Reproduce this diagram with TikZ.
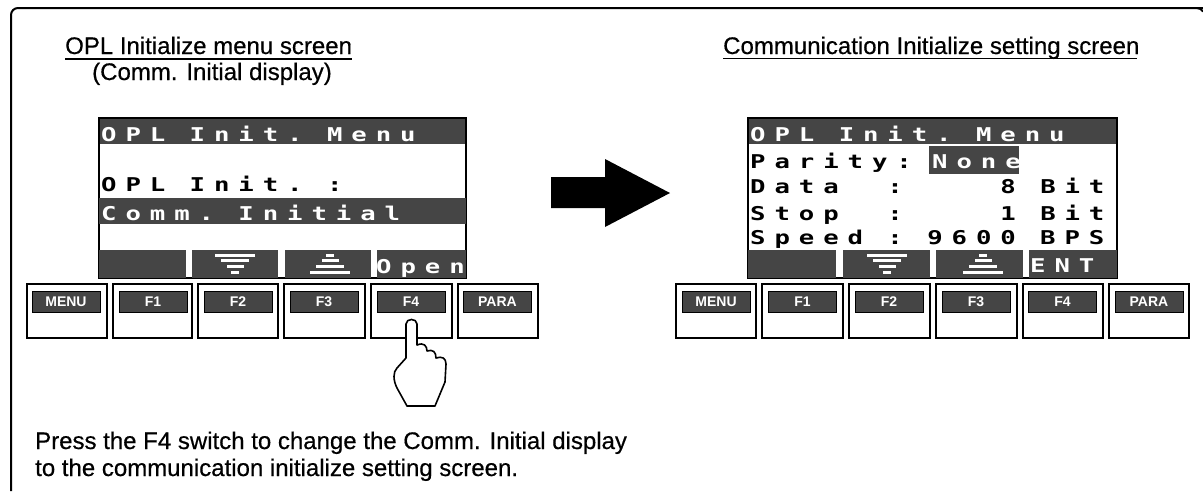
\documentclass[tikz,border=0pt]{standalone}
\usepackage{fontspec}
\setmainfont{Liberation Sans}
\newfontfamily\headfont{Liberation Sans}[FakeBold=0.5]
\newfontfamily\lcdfont{DejaVu Sans Mono}[FakeStretch=1.35,LetterSpace=47]
\usepackage{xcolor}
\usetikzlibrary{positioning}
\definecolor{lcdgray}{gray}{0.27}
\tikzset{
  frameline/.style={line width=2pt,rounded corners=7pt},
  lcdrow/.style={anchor=base west,inner sep=0pt,font=\lcdfont\bfseries\fontsize{19}{19}\selectfont},
  lcdinv/.style={lcdrow,text=white},
  switchbox/.style={draw=black,line width=1.3pt},
  switchcap/.style={fill=lcdgray,draw=black,line width=0.8pt,text=white,minimum width=68pt,minimum height=21pt,inner sep=0pt,font=\bfseries\fontsize{14}{14}\selectfont},
  headtext/.style={anchor=base west,inner sep=0pt,font=\headfont\fontsize{24}{24}\selectfont},
  whitebar/.style={fill=white,draw=none}
}
\begin{document}
\begin{tikzpicture}[x=1pt,y=-1pt]
\useasboundingbox (0,0) rectangle (1203,491);
%%%%%outer frame
\draw[frameline] (11,491) -- (11,8) -- (1197,8) -- (1210,8);
\draw[line width=2pt] (1197,8) arc (90:30:7pt);
%%%%%headings
\node[headtext] (headleft) at (65,54) {OPL Initialize menu screen};
\node[headtext] (headsub) at (92,80) {(Comm. Initial display)};
\node[headtext] (headright) at (723,54) {Communication Initialize setting screen};
\draw[line width=1.2pt] (65,59) -- (352,59);
\draw[line width=1.2pt] (723,58.5) -- (1137,58.5);
%%%%%left screen
\fill[lcdgray] (99,118) rectangle (466,144);
\draw[line width=1.5pt] (99,118) rectangle (466,278);
\fill[lcdgray] (99,198) rectangle (466,224);
\fill[lcdgray] (99,250) rectangle (186,278);
\fill[lcdgray] (192,250) rectangle (278,278);
\fill[lcdgray] (285,250) rectangle (371,278);
\fill[lcdgray] (377,250) rectangle (466,278);
\node[lcdinv] (titleleft) at (101,141) {OPL~Init.~Menu};
\node[lcdrow] (rowinit) at (101,191) {OPL~Init.~:};
\node[lcdinv] (rowcomm) at (101,220) {Comm.~Initial};
\node[lcdinv] (softopen) at (376,273) {Open};
%%%%%left soft key marks
\fill[whitebar] (215,253.5) rectangle (255,256.5);
\fill[whitebar] (221,258.5) rectangle (249,261.5);
\fill[whitebar] (227,265) rectangle (244,268);
\fill[whitebar] (231,271) rectangle (239,274);
\fill[whitebar] (310,271) rectangle (350,274);
\fill[whitebar] (316,265) rectangle (344,268);
\fill[whitebar] (322,258.5) rectangle (339,261.5);
\fill[whitebar] (326,253.5) rectangle (334,256.5);
%%%%%left switches
\draw[switchbox] (27,284) rectangle (107,338);
\draw[switchbox] (113,284) rectangle (192,338);
\draw[switchbox] (198,284) rectangle (278,338);
\draw[switchbox] (284,284) rectangle (365,338);
\draw[switchbox] (371,284) rectangle (452,338);
\draw[switchbox] (458,284) rectangle (538,338);
\node[switchcap] (menua) at (66,301.5) {MENU};
\node[switchcap] (fonea) at (153,301.5) {F1};
\node[switchcap] (ftwoa) at (238,301.5) {F2};
\node[switchcap] (fthreea) at (324,301.5) {F3};
\node[switchcap] (ffoura) at (411,301.5) {F4};
\node[switchcap] (paraa) at (497.5,301.5) {PARA};
%%%%%the hand
\draw[line width=1.6pt,line join=round,fill=white] (406,358) -- (406,324) .. controls (406,318) and (417,318) .. (417,324) -- (417,345)
  .. controls (424,342) and (427,346) .. (427,351) .. controls (433,349) and (436,352) .. (436,358) .. controls (442,356) and (446,358) .. (446,364)
  -- (445,382) -- (435,406) -- (407,406) -- (397,388) .. controls (393,380) and (393,372) .. (397,368) -- (406,358);
%%%%%bottom text
\node[headtext] (notea) at (35,449) {Press the F4 switch to change the Comm. Initial display};
\node[headtext] (noteb) at (35,476) {to the communication initialize setting screen.};
%%%%%big arrow
\fill[black] (551,177) -- (605,177) -- (605,159) -- (670,193) -- (605,227) -- (605,208) -- (551,208) -- cycle;
%%%%%right screen
\fill[lcdgray] (748,118) rectangle (1117,144);
\draw[line width=1.5pt] (748,118) rectangle (1117,278);
\fill[lcdgray] (748,250) rectangle (836,278);
\fill[lcdgray] (843,250) rectangle (930,278);
\fill[lcdgray] (936,250) rectangle (1023,278);
\fill[lcdgray] (1029,250) rectangle (1117,278);
\fill[lcdgray] (929,146) rectangle (1019,174);
\node[lcdinv] (titleright) at (750,141) {OPL~Init.~Menu};
\node[lcdrow] (rowparity) at (750,168) {Parity:};
\node[lcdinv] (rownone) at (932,168) {None};
\node[lcdrow] (rowdata) at (750,193) {Data~~:~~~~8~Bit};
\node[lcdrow] (rowstop) at (750,220) {Stop~~:~~~~1~Bit};
\node[lcdrow] (rowspeed) at (750,244) {Speed~:~9600~BPS};
\node[lcdinv] (softent) at (1030,272) {ENT};
%%%%%right soft key marks
\fill[whitebar] (867,253.5) rectangle (907,256.5);
\fill[whitebar] (873,258.5) rectangle (901,261.5);
\fill[whitebar] (879,265) rectangle (896,268);
\fill[whitebar] (883,271) rectangle (891,274);
\fill[whitebar] (963,271) rectangle (1003,274);
\fill[whitebar] (969,265) rectangle (997,268);
\fill[whitebar] (975,258.5) rectangle (992,261.5);
\fill[whitebar] (979,253.5) rectangle (987,256.5);
%%%%%right switches
\draw[switchbox] (676,284) rectangle (756,338);
\draw[switchbox] (762,284) rectangle (843,338);
\draw[switchbox] (849,284) rectangle (930,338);
\draw[switchbox] (936,284) rectangle (1017,338);
\draw[switchbox] (1023,284) rectangle (1103,338);
\draw[switchbox] (1109,284) rectangle (1189,338);
\node[switchcap] (menub) at (716,301.5) {MENU};
\node[switchcap] (foneb) at (802.5,301.5) {F1};
\node[switchcap] (ftwob) at (889,301.5) {F2};
\node[switchcap] (fthreeb) at (976,301.5) {F3};
\node[switchcap] (ffourb) at (1062.5,301.5) {F4};
\node[switchcap] (parab) at (1149,301.5) {PARA};
\end{tikzpicture}
\end{document}
